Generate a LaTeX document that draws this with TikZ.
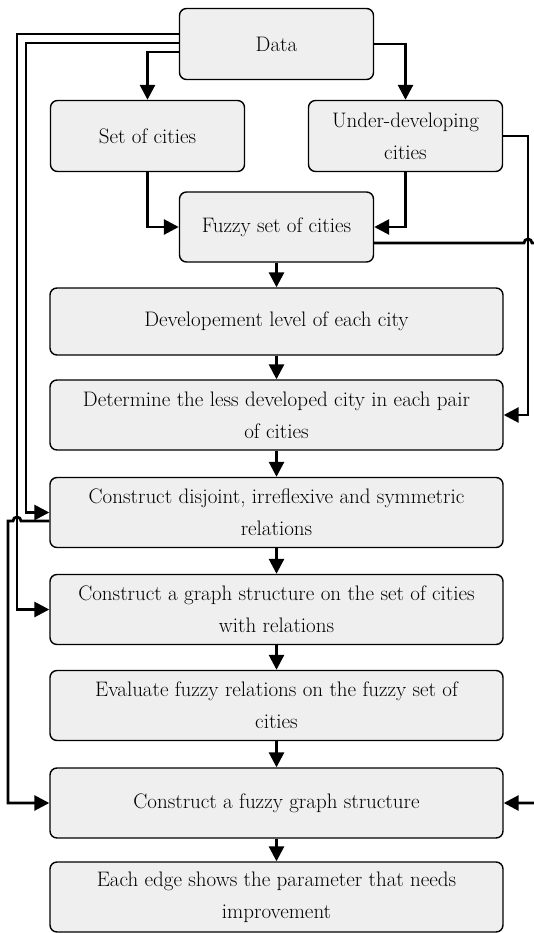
\documentclass[tikz,border=0pt]{standalone}
\usetikzlibrary{arrows.meta}
\definecolor{boxgray}{HTML}{EFEFEF}
\tikzstyle{box}=[draw=black,line width=1.4pt,rounded corners=7pt,fill=boxgray,align=center,inner sep=0pt,font=\fontsize{21}{32}\selectfont]
\tikzstyle{smallbox}=[box,minimum width=194pt,minimum height=71pt]
\tikzstyle{widebox}=[box,minimum width=453pt,minimum height=70pt]
\tikzstyle{conn}=[line width=2.8pt,-{Triangle[length=15pt,width=15pt]}]

\begin{document}
\begin{tikzpicture}[x=1pt,y=-1pt]
  \useasboundingbox (0,0) rectangle (533,933);
  \node[smallbox] (data) at (276.5,44) {Data};
  \node[smallbox] (set) at (147.5,136) {Set of cities};
  \node[smallbox] (under) at (405.5,136) {Under-developing\\cities};
  \node[smallbox,minimum height=70pt] (fuzzy) at (276.5,227) {Fuzzy set of cities};
  \node[widebox,minimum height=67pt] (devel) at (276.5,321.5) {Developement level of each city};
  \node[widebox] (determ) at (276.5,415) {Determine the less developed city in each pair\\of cities};
  \node[widebox] (disj) at (276.5,512.5) {Construct disjoint, irreflexive and symmetric\\relations};
  \node[widebox] (graphs) at (276.5,609.5) {Construct a graph structure on the set of cities\\with relations};
  \node[widebox] (evalr) at (276.5,705.5) {Evaluate fuzzy relations on the fuzzy set of\\cities};
  \node[widebox] (fgraph) at (276.5,803) {Construct a fuzzy graph structure};
  \node[widebox] (edge) at (276.5,897) {Each edge shows the parameter that needs\\improvement};

  \coordinate (rgt) at (528,300);
  \coordinate (hopr) at (528,243);
  \coordinate (la) at (17,300);
  \coordinate (lb) at (26,300);
  \coordinate (lc) at (8,700);
  \coordinate (hopl) at (17,521);

  \draw[conn] ([yshift=-8pt]data.west) -| (set.north);
  \draw[conn] (data.east) -| (under.north);
  \draw[conn] (set.south) |- (fuzzy.west);
  \draw[conn] (under.south) |- (fuzzy.east);
  \draw[conn] (fuzzy.south) -- (devel.north);
  \foreach \a/\b in {devel/determ,determ/disj,disj/graphs,graphs/evalr,evalr/fgraph,fgraph/edge}
    \draw[conn] (\a.south) -- (\b.north);

  \draw[conn] (under.east) -| (rgt) |- (determ.east);
  \draw[conn] ([yshift=-16pt]fuzzy.east) -- ([xshift=-4pt]hopr)
    arc[start angle=180,end angle=0,radius=4pt] -- ++(12,0) |- (fgraph.east);

  \draw[conn] ([yshift=10pt]data.west) -| (la) |- (graphs.west);
  \draw[conn] ([yshift=1pt]data.west) -| (lb) |- (disj.west);
  \draw[conn] ([yshift=-8.5pt]disj.west) -- ([xshift=4pt]hopl)
    arc[start angle=0,end angle=180,radius=4pt] -| (lc) |- (fgraph.west);
\end{tikzpicture}
\end{document}
